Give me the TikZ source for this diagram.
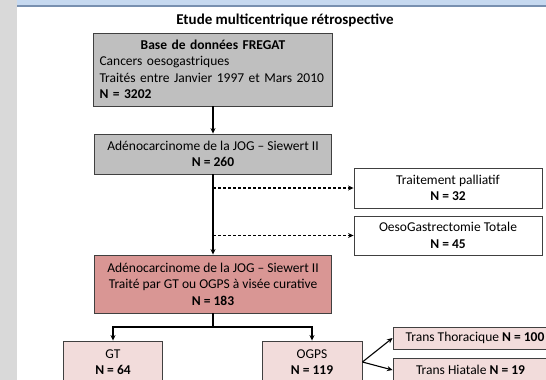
\documentclass[tikz,border=0pt]{standalone}
\usepackage{fontspec}
\setmainfont{Carlito}
\usetikzlibrary{arrows.meta}
\definecolor{boxgray}{RGB}{191,191,191}
\definecolor{boxred}{RGB}{217,150,148}
\definecolor{boxpink}{RGB}{242,220,219}
\definecolor{edgegray}{RGB}{64,64,64}
\definecolor{barblue}{RGB}{198,217,240}
\definecolor{barline}{RGB}{120,144,176}
\definecolor{stripgray}{RGB}{217,217,217}

\begin{document}
\begin{tikzpicture}[x=1pt, y=-1pt,
    font=\fontsize{13.5}{16.5}\selectfont,
    box/.style={draw=edgegray, line width=0.9pt, inner sep=1pt, align=center},
    arrow/.style={-{Stealth[length=5.5pt,width=5pt]}, line width=1.1pt},
    dasharrow/.style={arrow, dash pattern=on 3pt off 2pt}]
    \useasboundingbox (0,0) rectangle (546,380);
    \clip (0,0) rectangle (546,380);
    % screen background
    \fill[stripgray] (0,0) rectangle (17,380);
    \fill[barblue] (17,0) rectangle (546,5);
    \fill[barline] (17,5) rectangle (546,6.5);

    \node[font=\fontsize{15}{18}\selectfont\bfseries] (title) at (285, 20) {Etude multicentrique rétrospective};

    \node[box, fill=boxgray, text width=227pt, align=left, inner xsep=6pt, minimum height=73pt] (base) at (213, 69.5)
        {\makebox[\hsize]{\bfseries Base de données FREGAT}\\Cancers oesogastriques\\Traités entre Janvier 1997 et Mars 2010\\\textbf{N = 3202}};
    \node[box, fill=boxgray, minimum width=237pt, minimum height=40pt] (adeno) at (213, 154)
        {Adénocarcinome de la JOG -- Siewert II\\\textbf{N = 260}};

    \node[box, fill=white, minimum width=188pt, minimum height=40pt] (palliatif) at (448, 188)
        {Traitement palliatif\\\textbf{N = 32}};
    \node[box, fill=white, minimum width=188pt, minimum height=39pt] (oeso) at (448, 235.5)
        {OesoGastrectomie Totale\\\textbf{N = 45}};

    \node[box, fill=boxred, minimum width=237pt, minimum height=58pt] (curative) at (213, 284)
        {Adénocarcinome de la JOG -- Siewert II\\Traité par GT ou OGPS à visée curative\\\textbf{N = 183}};

    \node[box, fill=boxpink, minimum width=99pt, minimum height=42pt] (gt) at (113, 362)
        {GT\\\textbf{N = 64}};
    \node[box, fill=boxpink, minimum width=100pt, minimum height=42pt] (ogps) at (312, 362)
        {OGPS\\\textbf{N = 119}};

    \node[box, fill=boxpink, minimum width=164pt, minimum height=22pt] (thoracique) at (475, 338)
        {Trans Thoracique \textbf{N = 100}};
    \node[box, fill=boxpink, minimum width=155pt, minimum height=24pt] (hiatale) at (470.5, 370)
        {Trans Hiatale \textbf{N = 19}};

    \coordinate (exit1) at (213, 188);
    \coordinate (exit2) at (213, 235.5);
    \coordinate (fork) at (213, 327);

    \draw[arrow] (base) -- (adeno);
    \draw[arrow] (adeno) -- (curative);
    \draw[dasharrow] (exit1) -- (palliatif);
    \draw[dasharrow] (exit2) -- (oeso);

    \draw[line width=1.1pt] (curative) -- (fork);
    \draw[arrow] (fork) -| (gt);
    \draw[arrow] (fork) -| (ogps);

    \draw[arrow] (ogps.east) -- (thoracique.west);
    \draw[arrow] (ogps.east) -- (hiatale.west);
\end{tikzpicture}
\end{document}
